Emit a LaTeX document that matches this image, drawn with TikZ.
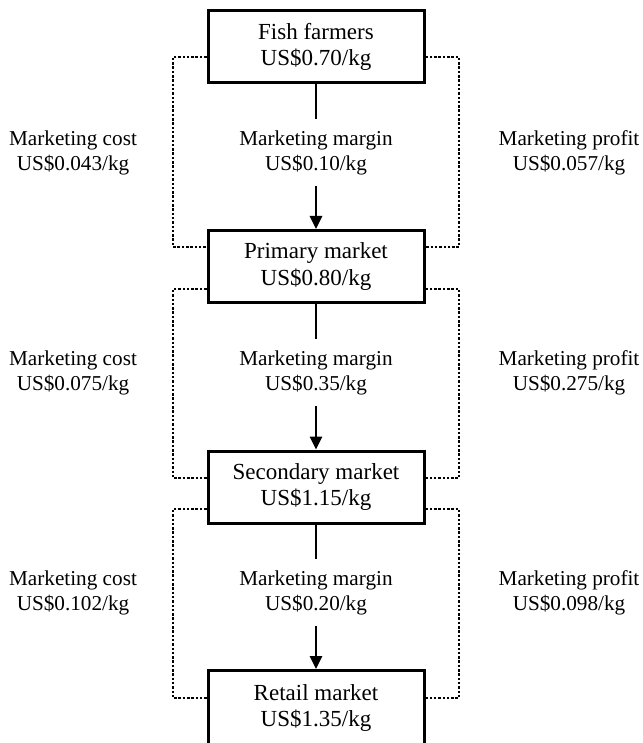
\documentclass[tikz,border=0pt]{standalone}
\usepackage{fontspec}
\setmainfont{Liberation Serif}
\usetikzlibrary{arrows.meta}
\begin{document}
\begin{tikzpicture}[x=1pt,y=-1pt,
  stagebox/.style={draw,line width=3pt,minimum width=216pt,minimum height=72pt,inner sep=0pt,align=center,font=\fontsize{23}{26.5}\selectfont},
  lbl/.style={align=center,inner xsep=0pt,inner ysep=11pt,font=\fontsize{21.2}{25}\selectfont},
  flow/.style={line width=2.8pt},
  flowarrow/.style={line width=2.8pt,-{Triangle[length=13pt,width=12pt]}},
  dotline/.style={line width=2.7pt,dash pattern=on 2.5pt off 1.8pt}]
\useasboundingbox (0,0) rectangle (642,743);
\fill[white] (0,0) rectangle (642,743);
\node[stagebox] (b1) at (316,47) {Fish farmers\\US\$0.70/kg};
\node[stagebox] (b2) at (316,266.5) {Primary market\\US\$0.80/kg};
\node[stagebox] (b3) at (316,487) {Secondary market\\US\$1.15/kg};
\node[stagebox,minimum height=75pt] (b4) at (316,708) {Retail market\\US\$1.35/kg};
% labels
\node[lbl] (m1) at (316,152.5) {Marketing margin\\US\$0.10/kg};
\node[lbl] (c1) at (73,152.5) {Marketing cost\\US\$0.043/kg};
\node[lbl] (p1) at (569,152.5) {Marketing profit\\US\$0.057/kg};
\node[lbl] (m2) at (316,372.5) {Marketing margin\\US\$0.35/kg};
\node[lbl] (c2) at (73,372.5) {Marketing cost\\US\$0.075/kg};
\node[lbl] (p2) at (569,372.5) {Marketing profit\\US\$0.275/kg};
\node[lbl] (m3) at (316,592.5) {Marketing margin\\US\$0.20/kg};
\node[lbl] (c3) at (73,592.5) {Marketing cost\\US\$0.102/kg};
\node[lbl] (p3) at (569,592.5) {Marketing profit\\US\$0.098/kg};
% flow
\foreach \a/\m/\b in {b1/m1/b2,b2/m2/b3,b3/m3/b4}{
  \draw[flow] (\a.south) -- (\m.north);
  \draw[flowarrow] (\m.south) -- (\b.north);
}
% brackets
\coordinate (t1) at (0,57);  \coordinate (u1) at (0,247);
\coordinate (t2) at (0,289); \coordinate (u2) at (0,478);
\coordinate (t3) at (0,509); \coordinate (u3) at (0,698);
\coordinate (lx) at (173,0); \coordinate (rx) at (459,0);
\foreach \a/\b/\t/\u in {b1/b2/t1/u1,b2/b3/t2/u2,b3/b4/t3/u3}{
  \draw[dotline] (\a.west |- \t) -- (lx |- \t) -- (lx |- \u) -- (\b.west |- \u);
  \draw[dotline] (\a.east |- \t) -- (rx |- \t) -- (rx |- \u) -- (\b.east |- \u);
}
\end{tikzpicture}
\end{document}
